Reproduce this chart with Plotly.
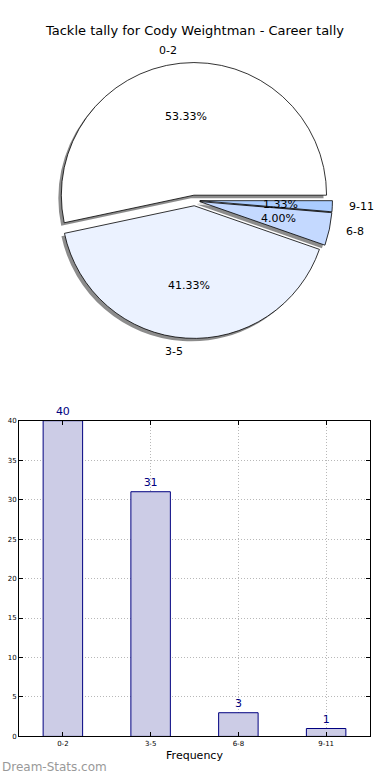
import math
import plotly.graph_objects as go

# ---- data ----
categories = ["0-2", "3-5", "6-8", "9-11"]
counts = [40, 31, 3, 1]
pie_colors = ["#FFFFFF", "#EBF2FF", "#C4D9FF", "#AACCFF"]
pull = [0.04, 0.04, 0.04, 0.04]
y_ticks = [0, 5, 10, 15, 20, 25, 30, 35, 40]
title_text = "Tackle tally for Cody Weightman - Career tally"

W, H = 390, 780
FONT = "DejaVu Sans"

# pie geometry (pixels)
cx, cy = 194.5, 198.5
r_px = 134.0
box = 2 * r_px * (1 + max(pull))
pie_dom_x = [(cx - box / 2) / W, (cx + box / 2) / W]
pie_dom_y = [1 - (cy + box / 2) / H, 1 - (cy - box / 2) / H]
sh = 3.0  # shadow offset px
shadow_dom_x = [pie_dom_x[0] - sh / W, pie_dom_x[1] - sh / W]
shadow_dom_y = [pie_dom_y[0] - sh / H, pie_dom_y[1] - sh / H]

total = sum(counts)
# first slice starts at 3 o'clock and runs counterclockwise
rotation = 90 - 360.0 * counts[0] / total

fig = go.Figure()

# shadow
fig.add_trace(go.Pie(
    labels=categories, values=counts, sort=False, direction="counterclockwise",
    rotation=rotation, pull=pull, textinfo="none", hoverinfo="skip", showlegend=False,
    marker=dict(colors=["rgba(0,0,0,0.45)"] * len(counts), line=dict(width=0)),
    domain=dict(x=shadow_dom_x, y=shadow_dom_y),
))
# main pie
fig.add_trace(go.Pie(
    labels=categories, values=counts, sort=False, direction="counterclockwise",
    rotation=rotation, pull=pull, textinfo="none", showlegend=False,
    marker=dict(colors=pie_colors, line=dict(color="black", width=0.8)),
    domain=dict(x=pie_dom_x, y=pie_dom_y),
))

# pie text annotations computed from the data
annotations = []
cum = 0
for lab, v, p in zip(categories, counts, pull):
    t1 = 360.0 * cum / total
    cum += v
    t2 = 360.0 * cum / total
    mid = math.radians((t1 + t2) / 2)
    ex = cx + p * r_px * math.cos(mid)
    ey = cy - p * r_px * math.sin(mid)
    px = ex + 0.6 * r_px * math.cos(mid)
    py = ey - 0.6 * r_px * math.sin(mid)
    annotations.append(dict(
        x=px / W, y=1 - py / H, xref="paper", yref="paper",
        text="%.2f%%" % (100.0 * v / total), showarrow=False,
        xanchor="center", yanchor="middle",
        font=dict(family=FONT, size=11, color="black")))
    lx = ex + 1.1 * r_px * math.cos(mid)
    ly = ey - 1.1 * r_px * math.sin(mid)
    annotations.append(dict(
        x=lx / W, y=1 - ly / H, xref="paper", yref="paper",
        text=lab, showarrow=False,
        xanchor="left" if math.cos(mid) > 0 else "right", yanchor="middle",
        font=dict(family=FONT, size=11, color="black")))

# bar chart
fig.add_trace(go.Bar(
    x=categories, y=counts, width=0.45,
    marker=dict(color="#CCCCE6", line=dict(color="#000080", width=1)),
    text=[str(c) for c in counts], textposition="outside",
    textfont=dict(family=FONT, size=11, color="#000080"),
    cliponaxis=False, showlegend=False, xaxis="x", yaxis="y",
))

annotations.append(dict(
    x=0, y=1 - 771 / H, xref="paper", yref="paper", text="Dream-Stats.com",
    showarrow=False, xanchor="left", yanchor="middle",
    font=dict(family=FONT, size=12, color="#999999")))

fig.update_layout(
    width=W, height=H,
    margin=dict(l=0, r=0, t=0, b=0),
    paper_bgcolor="white", plot_bgcolor="white",
    font=dict(family=FONT, size=11, color="black"),
    title=dict(text=title_text, x=0.5, xanchor="center", y=1 - 30 / H, yanchor="middle",
               yref="container", font=dict(family=FONT, size=13, color="black")),
    annotations=annotations,
    xaxis=dict(
        domain=[19 / W, 370 / W], range=[-0.5, 3.5], type="category",
        showline=True, linecolor="black", linewidth=1, mirror="ticks",
        ticks="inside", ticklen=4, tickcolor="black",
        showgrid=True, gridcolor="#B8B8B8", griddash="1px,2px", gridwidth=1,
        tickfont=dict(family=FONT, size=7, color="black"),
        title=dict(text="Frequency", font=dict(family=FONT, size=11), standoff=4),
        zeroline=False, fixedrange=True,
    ),
    yaxis=dict(
        domain=[1 - 740 / H, 1 - 421 / H], range=[0, 40],
        tickvals=y_ticks,
        showline=True, linecolor="black", linewidth=1, mirror="ticks",
        ticks="inside", ticklen=4, tickcolor="black",
        showgrid=True, gridcolor="#B8B8B8", griddash="1px,2px", gridwidth=1,
        tickfont=dict(family=FONT, size=7, color="black"),
        zeroline=False, fixedrange=True,
    ),
)

fig.write_html("out.html", config={"displayModeBar": False},
               post_script="document.body.style.margin='0';document.body.style.padding='0';")
